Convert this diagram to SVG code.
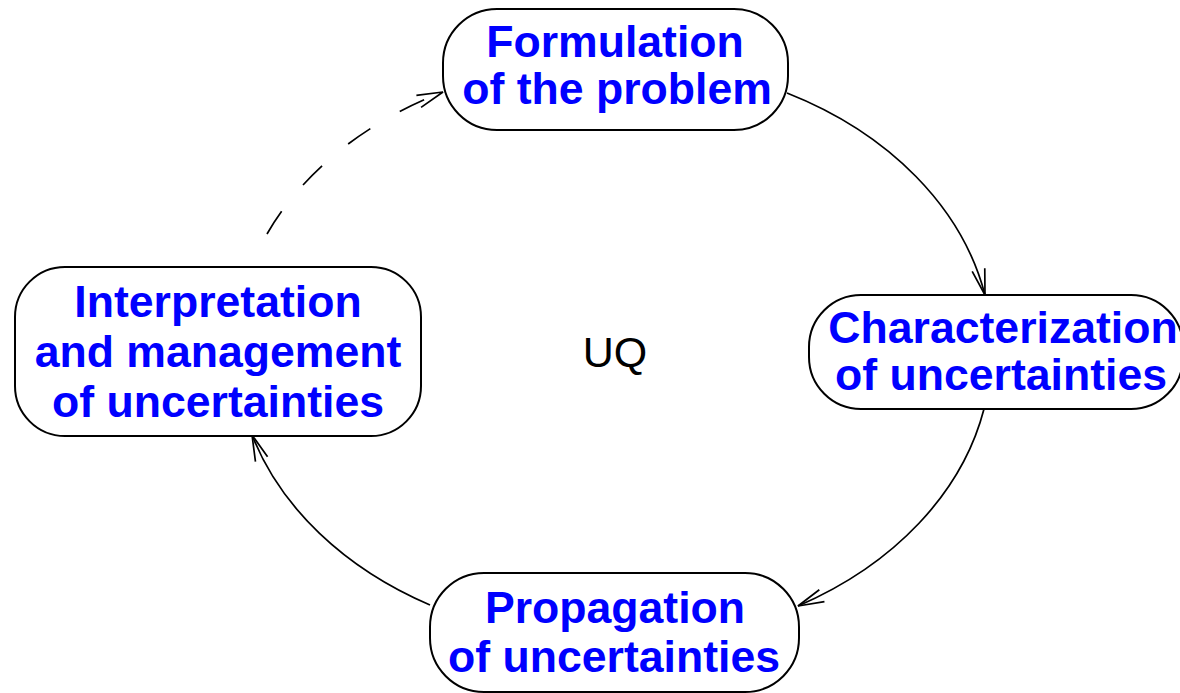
<svg xmlns="http://www.w3.org/2000/svg" width="1180" height="693" viewBox="0 0 1180 693">
<style>
.box{fill:#fff;stroke:#000;stroke-width:2}
.lbl{font-family:"Liberation Sans",Arial,sans-serif;font-weight:bold;font-size:44.6px;fill:#0000ff;text-anchor:middle}
.conn{fill:none;stroke:#000;stroke-width:1.7}
.uq{font-family:"Liberation Sans",Arial,sans-serif;font-size:43px;fill:#000;text-anchor:middle}
</style>
<defs>
<marker id="arr" markerUnits="userSpaceOnUse" markerWidth="30" markerHeight="20" refX="0" refY="0" viewBox="-28 -10 30 20" orient="auto" overflow="visible">
<path d="M-26,-6.5 L0,0 L-26,6.5" fill="none" stroke="#000" stroke-width="1.7"/>
</marker>
</defs>
<rect width="1180" height="693" fill="#fff"/>
<g id="connectors">
<path class="conn" d="M787,93 A377,291 0 0 1 985,295" marker-end="url(#arr)"/>
<path class="conn" d="M984,409 A377,291 0 0 1 798,606" marker-end="url(#arr)"/>
<path class="conn" d="M430,605 A377,291 0 0 1 252,435" marker-end="url(#arr)"/>
<path class="conn" d="M267,234 A377,291 0 0 1 443,92" stroke-dasharray="27 34" marker-end="url(#arr)"/>
</g>
<g id="formulation">
<rect class="box" x="443" y="9" width="345" height="121" rx="54" ry="54"/>
<text class="lbl" x="615" y="57">Formulation</text>
<text class="lbl" x="617" y="104">of the problem</text>
</g>
<g id="characterization">
<rect class="box" x="809" y="295" width="374" height="114" rx="52" ry="52"/>
<text class="lbl" x="1003" y="343">Characterization</text>
<text class="lbl" x="1001" y="390">of uncertainties</text>
</g>
<g id="propagation">
<rect class="box" x="430" y="573" width="369" height="119" rx="54" ry="54"/>
<text class="lbl" x="615" y="623">Propagation</text>
<text class="lbl" x="614" y="672">of uncertainties</text>
</g>
<g id="interpretation">
<rect class="box" x="15" y="267" width="406" height="169" rx="50" ry="50"/>
<text class="lbl" x="218" y="317">Interpretation</text>
<text class="lbl" x="218" y="367">and management</text>
<text class="lbl" x="218" y="417">of uncertainties</text>
</g>
<g id="uq">
<text class="uq" x="615" y="367">UQ</text>
</g>
</svg>
